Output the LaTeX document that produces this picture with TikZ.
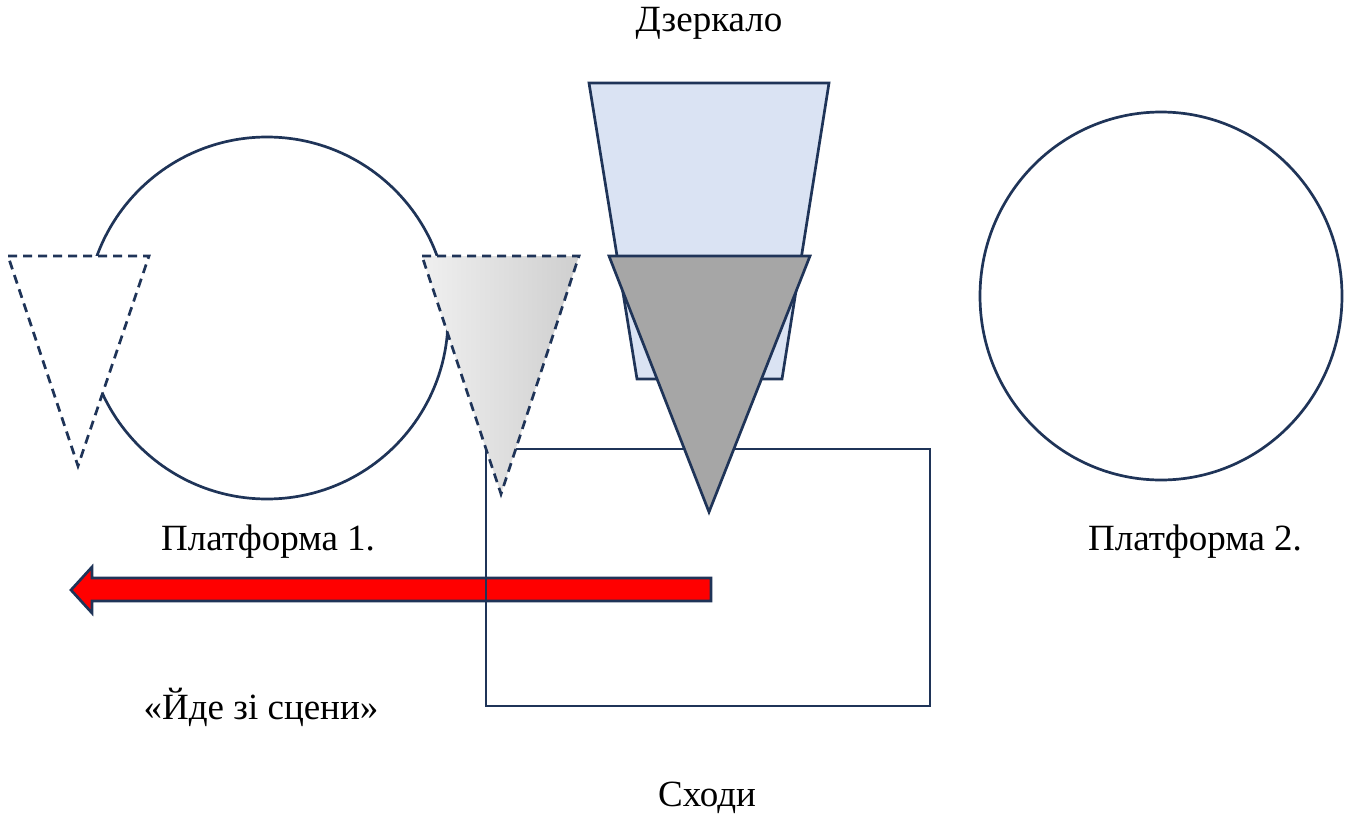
\documentclass[tikz,border=0pt]{standalone}
\usepackage{fontspec}
\setmainfont{Liberation Serif}
\definecolor{navy}{HTML}{1F3458}
\definecolor{mirror}{HTML}{DAE3F3}
\definecolor{darkgr}{HTML}{A6A6A6}
\tikzset{
  outline/.style={draw=navy, line width=2.7pt, line join=miter},
  dashline/.style={draw=navy, line width=2.7pt, dash pattern=on 9pt off 6pt},
  lbl/.style={font=\fontsize{37}{44}\selectfont, inner sep=0pt, text=black, anchor=base}
}
\begin{document}
\begin{tikzpicture}[x=1pt,y=-1pt]
\useasboundingbox (0,0) rectangle (1364,816);
% platform 1
\draw[outline] (267,318) circle [radius=181];
\filldraw[fill=white, dashline] (8,256) -- (149,256) -- (78,466) -- cycle;
% arrow
\filldraw[fill=red, draw=navy, line width=2.7pt] (711,578) -- (92,578) -- (92,567) -- (71,590) -- (92,613) -- (92,601) -- (711,601) -- cycle;
% stairs rectangle
\draw[outline] (486,449) rectangle (930,706);
% gradient triangle
\shade[left color=gray!12, right color=gray!38] (422,256) -- (579,256) -- (501,494) -- cycle;
\draw[dashline] (422,256) -- (579,256) -- (501,494) -- cycle;
% mirror
\filldraw[fill=mirror, outline] (589,83) -- (829,83) -- (782,379) -- (637,379) -- cycle;
\filldraw[fill=darkgr, outline] (609,256) -- (810,256) -- (709,512) -- cycle;
% platform 2
\draw[outline] (1161,296) ellipse [x radius=181, y radius=184];
% labels
\node[lbl] (mirrorlbl) at (709,32) {Дзеркало};
\node[lbl] (p1) at (268,550) {Платформа 1.};
\node[lbl] (p2) at (1195,550) {Платформа 2.};
\node[lbl] (exit) at (261,719) {«Йде зі сцени»};
\node[lbl] (stairs) at (707,806) {Сходи};
\end{tikzpicture}
\end{document}
